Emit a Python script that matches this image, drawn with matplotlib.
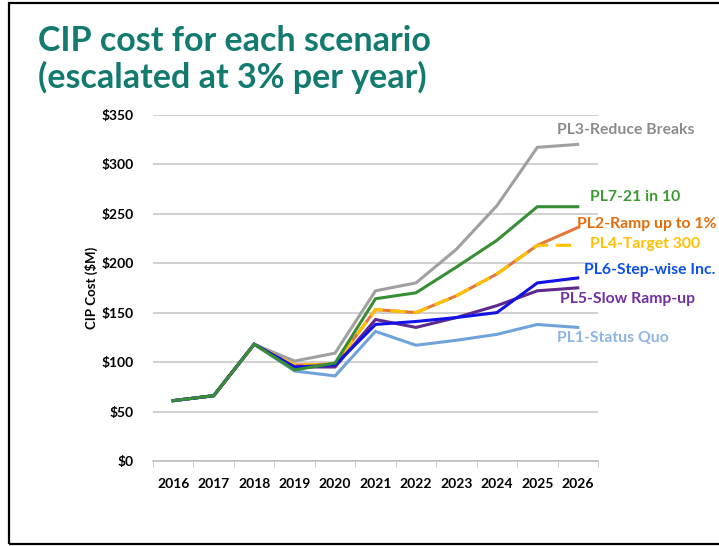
import numpy as np
import matplotlib
matplotlib.use("Agg")
import matplotlib.pyplot as plt
from matplotlib.patches import Rectangle

# data ($M)
years = [2016, 2017, 2018, 2019, 2020, 2021, 2022, 2023, 2024, 2025, 2026]
pl1 = [61, 66, 118, 91, 86, 131, 117, 122, 128, 138, 135]
pl2 = [61, 66, 118, 97, 98, 153, 150, 167, 189, 218, 236]
pl3 = [61, 66, 118, 101, 109, 172, 180, 214, 258, 317, 320]
pl4 = [61, 66, 118, 97, 98, 153, 150, 167, 189, 218, 218]
pl5 = [61, 66, 118, 95, 95, 143, 135, 145, 157, 172, 175]
pl6 = [61, 66, 118, 95, 97, 138, 141, 145, 150, 180, 185]
pl7 = [61, 66, 118, 92, 99, 164, 170, 196, 223, 257, 257]

names = ["PL1-Status Quo", "PL2-Ramp up to 1%", "PL3-Reduce Breaks", "PL4-Target 300",
         "PL5-Slow Ramp-up", "PL6-Step-wise Inc.", "PL7-21 in 10"]
series = [pl1, pl2, pl3, pl4, pl5, pl6, pl7]
line_colors = ["#6FA3DA", "#E4783A", "#A0A0A0", "#FFC000", "#5E2A8E", "#1212E6", "#388E34"]
text_colors = ["#8DB4E2", "#E46C0A", "#8C8C8C", "#FFC000", "#7030A0", "#0B50F0", "#3C9A35"]
# label anchor (x in category units, y in $M)
label_pos = [(9.49, 124), (9.98, 240), (9.49, 335), (10.31, 219),
             (9.57, 164), (10.16, 193), (10.31, 267)]

W, H = 719, 546
fig = plt.figure(figsize=(W / 100, H / 100), dpi=100)
ax = fig.add_axes([153 / W, 1 - 461 / H, (598 - 153) / W, (461 - 114.7) / H])

x = np.arange(len(years))
for i, (vals, c) in enumerate(zip(series, line_colors)):
    if i == 3:
        ax.plot(x, vals, color=c, lw=2.2, dashes=(5, 2.5), zorder=3 + i)
    else:
        ax.plot(x, vals, color=c, lw=2.2, zorder=3 + i, solid_joinstyle="miter")

for name, (tx, ty), tc in zip(names, label_pos, text_colors):
    ax.text(tx, ty, name, color=tc, fontsize=11.3, fontweight="bold",
            family="Lato", va="center", ha="left", clip_on=False)

ax.set_xlim(-0.5, 10.5)
ax.set_ylim(0, 350)
ax.set_yticks(range(0, 351, 50))
ax.set_yticklabels([f"${v}" for v in range(0, 351, 50)])
ax.set_xticks(x)
ax.set_xticklabels([str(y) for y in years])
ax.set_xticks(np.arange(-0.5, 11, 1), minor=True)
ax.tick_params(axis="x", which="major", length=0, pad=12)
ax.tick_params(axis="x", which="minor", length=4, color="#BFBFBF", direction="out")
ax.tick_params(axis="y", length=0, pad=14)
for lab in ax.get_xticklabels() + ax.get_yticklabels():
    lab.set_fontweight("bold")
    lab.set_fontsize(10)
    lab.set_family("Lato")

ax.grid(axis="y", color="#C8C8C8", lw=1.2)
ax.set_axisbelow(True)
for s in ["top", "right", "left"]:
    ax.spines[s].set_visible(False)
ax.spines["bottom"].set_color("#BFBFBF")
ax.spines["bottom"].set_linewidth(1.2)

ax.set_ylabel("CIP Cost ($M)", fontsize=9.5, fontweight="bold", family="Lato", labelpad=2)

title_color = "#127A6E"
fig.text(38 / W, 1 - 41 / H, "CIP cost for each scenario", color=title_color,
         fontsize=24.5, fontweight="bold", family="Lato", va="center")
fig.text(38 / W, 1 - 77 / H, "(escalated at 3% per year)", color=title_color,
         fontsize=24.5, fontweight="bold", family="Lato", va="center")

fig.add_artist(Rectangle((9 / W, 1 - 544 / H), 1.0, (544 - 3) / H, transform=fig.transFigure,
                         fill=False, ec="black", lw=1.6))

fig.savefig("out.png", dpi=100)
